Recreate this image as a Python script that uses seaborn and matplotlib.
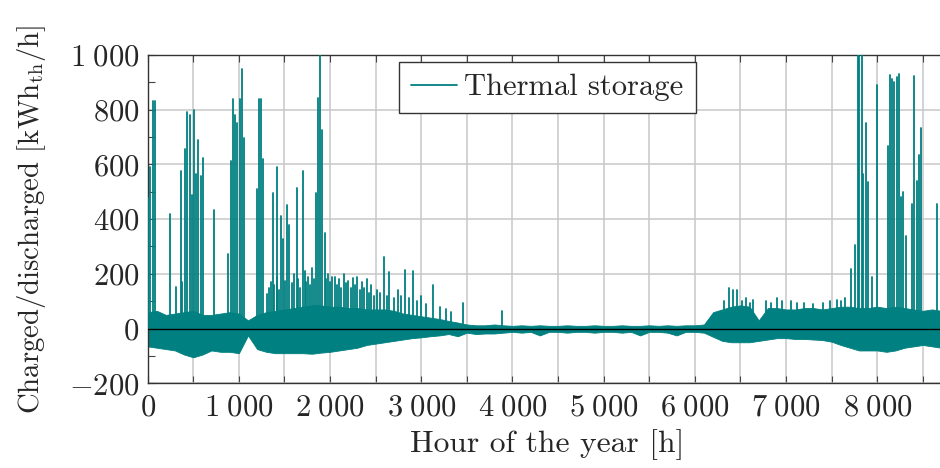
import numpy as np
import pandas as pd
import matplotlib
matplotlib.use("Agg")
import matplotlib.pyplot as plt
from matplotlib.lines import Line2D
import seaborn as sns

# Hourly storage flow summarised as a band (typical daily charge/discharge range)
band_hours = [0, 100, 200, 300, 400, 500, 600, 700, 800, 900,
              1000, 1100, 1200, 1300, 1400, 1500, 1600, 1700, 1800, 1900,
              2000, 2100, 2200, 2300, 2400, 2500, 2600, 2700, 2800, 2900,
              3000, 3100, 3200, 3300, 3400, 3500, 3600, 3700, 3800, 3900,
              4000, 4100, 4200, 4300, 4400, 4500, 4600, 4700, 4800, 4900,
              5000, 5100, 5200, 5300, 5400, 5500, 5600, 5700, 5800, 5900,
              6000, 6100, 6200, 6300, 6400, 6500, 6600, 6700, 6800, 6900,
              7000, 7100, 7200, 7300, 7400, 7500, 7600, 7700, 7800, 7900,
              8000, 8100, 8200, 8300, 8400, 8500, 8600, 8700, 8760]
band_upper = [60, 65, 50, 55, 60, 65, 50, 50, 55, 60,
              55, 30, 50, 60, 65, 70, 75, 80, 85, 85,
              80, 80, 75, 75, 70, 70, 70, 65, 55, 50,
              45, 40, 35, 28, 22, 15, 12, 12, 15, 12,
              10, 12, 10, 12, 10, 10, 12, 10, 10, 12,
              10, 10, 12, 10, 10, 12, 10, 12, 10, 12,
              12, 15, 60, 70, 80, 85, 80, 30, 75, 75,
              70, 70, 75, 75, 70, 75, 80, 80, 75, 75,
              80, 75, 80, 75, 70, 65, 70, 65, 60]
band_lower = [-65, -70, -75, -80, -95, -105, -95, -80, -85, -85,
              -90, -25, -75, -85, -90, -90, -90, -90, -92, -88,
              -85, -80, -75, -70, -60, -55, -50, -45, -40, -35,
              -32, -28, -25, -20, -28, -15, -20, -18, -18, -15,
              -12, -15, -12, -25, -12, -12, -15, -12, -12, -15,
              -12, -12, -15, -12, -25, -12, -12, -15, -25, -12,
              -12, -15, -30, -45, -50, -50, -50, -45, -40, -35,
              -35, -38, -38, -40, -42, -48, -60, -70, -80, -80,
              -80, -85, -80, -70, -65, -60, -65, -70, -60]

# Individual charging peaks
spike_hours = [4, 26, 55, 77, 245, 314, 361, 380, 409, 434, 460, 482, 504,
               529, 555, 580, 602, 723, 883, 909, 938, 960, 982, 1007, 1029,
               1055, 1197, 1223, 1248, 1270, 1303, 1330, 1350, 1369, 1390,
               1413, 1420, 1440, 1460, 1486, 1510, 1533, 1555, 1580, 1600,
               1632, 1650, 1670, 1701, 1720, 1740, 1760, 1780, 1800, 1820,
               1847, 1869, 1894, 1916, 1945, 1960, 1980, 2000, 2020, 2050,
               2075, 2100, 2125, 2150, 2175, 2200, 2225, 2250, 2275, 2300,
               2325, 2350, 2375, 2400, 2425, 2450, 2480, 2520, 2550, 2595,
               2620, 2650, 2700, 2740, 2780, 2820, 2860, 2910, 2950, 3000,
               3050, 3130, 3200, 3270, 3330, 3460, 3885,
               6320, 6375, 6420, 6460, 6520, 6560, 6600, 6640, 6780, 6830,
               6900, 6960, 7050, 7120, 7200, 7300, 7400, 7480, 7560, 7600,
               7650, 7708, 7752, 7785, 7803, 7829, 7846, 7873, 7901, 7945,
               7997, 8114, 8139, 8161, 8186, 8213, 8235, 8260, 8282, 8311,
               8380, 8406, 8432, 8454, 8476, 8651]
spike_values = [476, 591, 830, 833, 418, 152, 576, 170, 658, 792, 779, 488, 798,
                564, 688, 558, 622, 434, 273, 613, 838, 779, 752, 838, 949,
                698, 509, 838, 838, 619, 125, 150, 170, 497, 160,
                592, 190, 140, 412, 327, 175, 452, 379, 165, 200,
                513, 180, 150, 576, 210, 170, 190, 160, 220, 180,
                494, 844, 1000, 725, 349, 180, 200, 170, 190, 190,
                160, 180, 150, 200, 165, 175, 150, 185, 160, 190,
                140, 170, 150, 180, 130, 160, 120, 140, 130, 262,
                120, 207, 110, 140, 120, 215, 110, 212, 100, 120,
                90, 160, 80, 70, 60, 95, 65,
                100, 147, 140, 140, 100, 110, 95, 105, 100, 95,
                110, 100, 100, 95, 95, 90, 95, 100, 105, 100,
                110, 217, 305, 1000, 1000, 1000, 565, 752, 537, 190,
                890, 667, 928, 913, 900, 920, 930, 480, 500, 337,
                455, 923, 540, 635, 733, 455]

x_ticks = [0, 1000, 2000, 3000, 4000, 5000, 6000, 7000, 8000]
x_tick_labels = ["$0$", r"$1\;000$", r"$2\;000$", r"$3\;000$", r"$4\;000$",
                 r"$5\;000$", r"$6\;000$", r"$7\;000$", r"$8\;000$"]
y_ticks = [-200, 0, 200, 400, 600, 800, 1000]
y_tick_labels = ["$-200$", "$0$", "$200$", "$400$", "$600$", "$800$", r"$1\;000$"]

teal = "#008080"
tick_size = 22
xlabel_size = 22.7
ylabel_size = 20.7

sns.set_theme(style="ticks")
plt.rcParams["font.family"] = ["cmr10", "DejaVu Serif"]
plt.rcParams["mathtext.fontset"] = "cm"
plt.rcParams["axes.formatter.use_mathtext"] = True
plt.rcParams["axes.unicode_minus"] = False

fig = plt.figure(figsize=(9.4, 4.68), dpi=100)
ax = fig.add_axes([0.1571, 0.181, 0.8499, 0.7015])

# band of regular operation
ax.fill_between(band_hours, band_lower, band_upper, color=teal, lw=0.6,
                edgecolor=teal, zorder=2)

# peaks as vertical strokes from zero
rows = []
for i, (h, v) in enumerate(zip(spike_hours, spike_values)):
    rows.append({"spike": i, "hour": h, "value": 0})
    rows.append({"spike": i, "hour": h, "value": v})
spikes = pd.DataFrame(rows)
sns.lineplot(data=spikes, x="hour", y="value", units="spike", estimator=None,
             color=teal, lw=1.3, ax=ax, zorder=3, legend=False)

ax.axhline(0, color="black", lw=1.0, zorder=4)

ax.set_xlim(0, 8760)
ax.set_ylim(-200, 1000)
ax.set_xticks(x_ticks)
ax.set_xticklabels(x_tick_labels)
ax.set_xticks(np.arange(500, 8760, 1000), minor=True)
ax.set_yticks(y_ticks)
ax.set_yticklabels(y_tick_labels)
ax.set_yticks(np.arange(-100, 1000, 200), minor=True)

ax.grid(True, which="major", color="#c8c8c8", lw=1.1, zorder=0)
ax.grid(True, which="minor", axis="x", color="#c8c8c8", lw=1.1, zorder=0)
ax.set_axisbelow(True)

ax.tick_params(which="both", direction="in", top=True, right=True,
               labelsize=tick_size, color="#444444", width=0.8)
ax.tick_params(which="major", length=5)
ax.tick_params(which="minor", length=5)
ax.tick_params(axis="x", which="major", pad=8)
ax.tick_params(axis="y", which="major", pad=6)
for s in ax.spines.values():
    s.set_color("#333333")
    s.set_linewidth(1.0)

ax.set_xlabel("Hour of the year [h]", fontsize=xlabel_size, labelpad=5)
ax.set_ylabel(r"Charged/discharged [kWh$_{\mathrm{th}}$/h]", fontsize=ylabel_size,
              labelpad=15)

handle = Line2D([], [], color=teal, lw=1.3)
leg = ax.legend([handle], ["Thermal storage"], loc="upper center",
                bbox_to_anchor=(0.5, 0.98), fontsize=tick_size, frameon=True,
                fancybox=False, framealpha=1, edgecolor="#333333",
                handlelength=1.5, handletextpad=0.25, borderpad=0.4,
                borderaxespad=0.0)
leg.get_frame().set_linewidth(1.0)

fig.savefig("out.png", dpi=100)
